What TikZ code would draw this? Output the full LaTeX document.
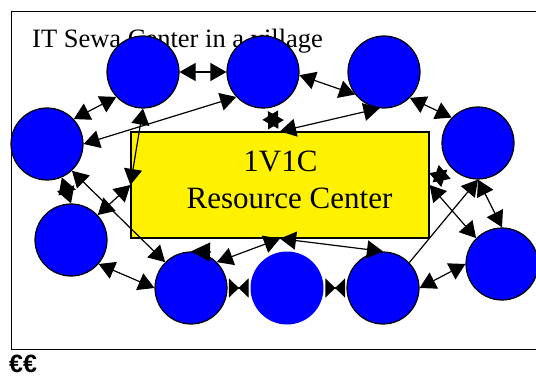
\documentclass[tikz,border=0pt]{standalone}
\usepackage{fontspec}
\setmainfont{Liberation Serif}
\newfontfamily\eurofont{Liberation Sans}
\usetikzlibrary{arrows.meta}
\begin{document}
\begin{tikzpicture}[x=1pt,y=-1pt,
  ball/.style={circle,fill=blue,draw=black,line width=1.2pt,minimum size=72pt,inner sep=0pt},
  link/.style={line width=1.2pt,{Triangle[length=16pt,width=18pt]}-{Triangle[length=16pt,width=18pt]}},
  onelink/.style={line width=1.2pt,-{Triangle[length=16pt,width=18pt]}},
  tie/.style={line width=1.2pt,{Triangle[length=10pt,width=19pt]}-{Triangle[length=10pt,width=19pt]},shorten <=11pt,shorten >=11pt},
  txt/.style={anchor=base,inner sep=0pt}
]
\useasboundingbox (0,0) rectangle (536,377);
\draw[line width=1pt] (540,12) -- (11,12) -- (11,349) -- (540,349);
\node[anchor=base west,inner sep=0pt,font=\fontsize{26.5}{30}\selectfont] (title) at (32,48) {IT Sewa Center in a village};
\node[draw,fill=yellow,line width=1.2pt,minimum width=298pt,minimum height=106pt,inner sep=0pt] (R) at (280,185) {};
\node[txt,font=\fontsize{31}{36}\selectfont] (t1) at (280.5,172) {1V1C};
\node[txt,font=\fontsize{31}{36}\selectfont] (t2) at (289.5,209) {Resource Center};
\node[ball] (C1) at (143,72) {};
\node[ball] (C2) at (263,72) {};
\node[ball] (C3) at (384,72) {};
\node[ball] (C4) at (478,143) {};
\node[ball] (C5) at (47,144) {};
\node[ball] (C6) at (71,240) {};
\node[ball] (C7) at (191,288) {};
\node[ball,draw=none,minimum size=73pt] (C8) at (287,288) {};
\node[ball] (C9) at (383,288) {};
\node[ball] (C10) at (502,264) {};
\draw[link] (C1) -- (C2);
\draw[link] (C2.-5) -- (C3.-142);
\draw[link] (C3.-45) -- (C4.136);
\draw[link] (C4.south) -- (C10.north);
\draw[link] (C9.east) -- (C10.west);
\draw[onelink] (C9.44) -- (C4.south);
\draw[link] (R.east) -- (C10.135);
\draw[link,shorten <=4pt,shorten >=4pt] (C4) -- (R.east);
\draw[link,shorten <=3pt,shorten >=3pt] (C2.-85) -- (R.north);
\draw[link] (C3.-97) -- (R.north);
\draw[link] (C2.-137) -- (C5.east);
\draw[link] (C5.43) -- (C1.-137);
\draw[link] (C1.south) -- (R.west);
\draw[link] (C6.43) -- (R.west);
\draw[link] (C5.-47) -- (C7.135);
\draw[link] (C6.-41) -- (C7.west);
\draw[link] (C5.-66) -- (C6.north);
\draw[tie] (C7) -- (C8);
\draw[tie] (C8) -- (C9);
\draw[link] (C7.45) -- (R.south);
\draw[link] (C9.north) -- (R.south);
\coordinate (q7) at (211,252);
\draw[line width=1.2pt,-{Triangle[length=19pt,width=19pt]}] (q7) -- (C7.north);
\node[anchor=base west,inner sep=0pt,font=\eurofont\bfseries\fontsize{25}{28}\selectfont] (eu) at (9,372) {€€};
\end{tikzpicture}
\end{document}
